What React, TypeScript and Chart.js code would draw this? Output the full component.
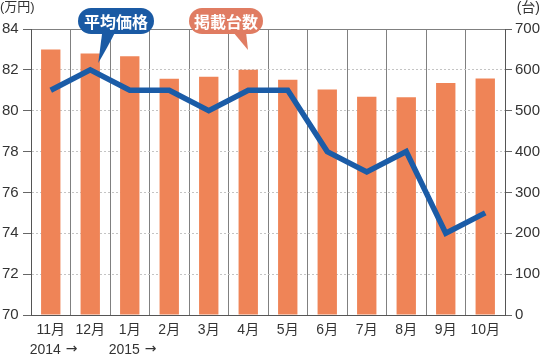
import React, { useEffect, useRef } from 'react';
import { Chart, registerables } from 'chart.js';

Chart.register(...registerables);

// ---- data ----
const months = ['11月', '12月', '1月', '2月', '3月', '4月', '5月', '6月', '7月', '8月', '9月', '10月'];
const yearLabels = ['2014', '', '2015', '', '', '', '', '', '', '', '', ''];
const yearArrow = '→';
const avgPrice = [81, 82, 81, 81, 80, 81, 81, 78, 77, 78, 74, 75]; // 万円 (left axis)
const listingCount = [650, 640, 633, 578, 583, 600, 576, 552, 534, 533, 568, 579]; // 台 (right axis)
const priceAxis = { min: 70, max: 84, step: 2 };
const countAxis = { min: 0, max: 700, step: 100 };
const leftUnit = '(万円)';
const rightUnit = '(台)';
const priceLabel = '平均価格';
const countLabel = '掲載台数';

const FONT = "'Liberation Sans', 'Noto Sans CJK JP', sans-serif";
const CJK = "'Noto Sans CJK JP', sans-serif";
const ARROW_FONT = "'DejaVu Sans', sans-serif";
const BAR_COLOR = '#EF8457';
const LINE_COLOR = '#1B5CA7';
const BUBBLE_BLUE = '#1A5AA4';
const BUBBLE_SALMON = '#E07C62';

function pill(ctx: CanvasRenderingContext2D, x1: number, y1: number, x2: number, y2: number) {
  const r = (y2 - y1) / 2;
  ctx.beginPath();
  ctx.moveTo(x1 + r, y1);
  ctx.lineTo(x2 - r, y1);
  ctx.arc(x2 - r, y1 + r, r, -Math.PI / 2, Math.PI / 2);
  ctx.lineTo(x1 + r, y2);
  ctx.arc(x1 + r, y1 + r, r, Math.PI / 2, (3 * Math.PI) / 2);
  ctx.closePath();
}

const decorPlugin = {
  id: 'decor',
  afterDraw(chart: any) {
    const ctx: CanvasRenderingContext2D = chart.ctx;
    const xs = chart.scales.x;
    const area = chart.chartArea;
    ctx.save();
    // unit titles
    ctx.fillStyle = '#333';
    ctx.font = `13px ${FONT}`;
    ctx.textBaseline = 'top';
    ctx.textAlign = 'left';
    ctx.fillText(leftUnit, 0, 1);
    ctx.font = `14px ${FONT}`;
    ctx.textAlign = 'right';
    ctx.fillText(rightUnit, 540, 1);

    // year row under month labels
    ctx.textAlign = 'left';
    ctx.textBaseline = 'alphabetic';
    ctx.fillStyle = '#333';
    yearLabels.forEach((t, i) => {
      if (!t) return;
      const cx = xs.getPixelForValue(i);
      const x0 = cx - 21;
      const base = area.bottom + 39;
      ctx.font = `14px ${FONT}`;
      ctx.fillText(t, x0, base);
      const w = ctx.measureText(t + ' ').width;
      ctx.font = `14px ${ARROW_FONT}`;
      ctx.fillText(yearArrow, x0 + w + 1, base - 1);
    });

    // callout: average price
    ctx.fillStyle = BUBBLE_BLUE;
    pill(ctx, 78, 8, 154, 34);
    ctx.fill();
    const p1 = xs.getPixelForValue(1);
    ctx.beginPath();
    ctx.moveTo(p1 + 12, 32);
    ctx.lineTo(p1 + 25, 32);
    ctx.quadraticCurveTo(p1 + 18, 46, p1 + 8, 63);
    ctx.closePath();
    ctx.fill();

    // callout: listing count
    ctx.fillStyle = BUBBLE_SALMON;
    pill(ctx, 189, 8, 263, 34);
    ctx.fill();
    ctx.beginPath();
    ctx.moveTo(233, 32);
    ctx.lineTo(246, 32);
    ctx.lineTo(248, 50);
    ctx.closePath();
    ctx.fill();

    ctx.fillStyle = '#fff';
    ctx.font = `bold 16px ${CJK}`;
    ctx.textAlign = 'center';
    ctx.textBaseline = 'middle';
    ctx.fillText(priceLabel, 116, 21.5);
    ctx.fillText(countLabel, 226, 21.5);
    ctx.restore();
  },
};

export default function App() {
  const ref = useRef<HTMLCanvasElement | null>(null);
  useEffect(() => {
    document.body.style.margin = '0';
    const canvas = ref.current!;
    const chart = new Chart(canvas, {
      type: 'bar',
      data: {
        labels: months,
        datasets: [
          {
            type: 'line',
            label: priceLabel,
            data: avgPrice,
            yAxisID: 'y',
            borderColor: LINE_COLOR,
            backgroundColor: LINE_COLOR,
            borderWidth: 5.5,
            pointRadius: 0,
            tension: 0,
            order: 0,
          } as any,
          {
            type: 'bar',
            label: countLabel,
            data: listingCount,
            yAxisID: 'y1',
            backgroundColor: BAR_COLOR,
            barPercentage: 0.49,
            categoryPercentage: 1,
            order: 1,
          },
        ],
      },
      options: {
        responsive: false,
        animation: false,
        devicePixelRatio: 1,
        layout: { padding: { left: 2, right: 0, top: 29, bottom: 0 } },
        plugins: { legend: { display: false }, tooltip: { enabled: false } },
        scales: {
          x: {
            grid: { offset: true, color: '#808080', drawTicks: false },
            border: { color: '#555' },
            ticks: {
              font: { size: 14, family: FONT },
              color: '#333',
              padding: 7,
              maxRotation: 0,
              autoSkip: false,
            },
            afterFit: (s: any) => {
              s.height = 41;
            },
          },
          y: {
            position: 'left',
            min: priceAxis.min,
            max: priceAxis.max,
            ticks: {
              stepSize: priceAxis.step,
              font: { size: 15, family: FONT },
              color: '#333',
              crossAlign: 'far',
              padding: 4,
            },
            grid: {
              color: (c: any) => (c.tick && c.tick.value === priceAxis.max ? '#808080' : '#c4c4c4'),
              tickColor: '#666',
              tickLength: 8,
              tickBorderDash: [],
            },
            border: {
              color: '#555',
              dash: (c: any) => (c.tick && c.tick.value === priceAxis.max ? [] : [2, 2]),
            },
            afterFit: (s: any) => {
              s.width = 29;
            },
          },
          y1: {
            position: 'right',
            min: countAxis.min,
            max: countAxis.max,
            ticks: {
              stepSize: countAxis.step,
              font: { size: 15, family: FONT },
              color: '#333',
              padding: 3,
            },
            grid: { drawOnChartArea: false, tickColor: '#666', tickLength: 7, tickBorderDash: [] },
            border: { color: '#555' },
            afterFit: (s: any) => {
              s.width = 35;
            },
          },
        },
      } as any,
      plugins: [decorPlugin],
    });
    return () => chart.destroy();
  }, []);
  return (
    <div style={{ position: 'absolute', left: 0, top: 0, width: 540, height: 356 }}>
      <canvas ref={ref} width={540} height={356} />
    </div>
  );
}
